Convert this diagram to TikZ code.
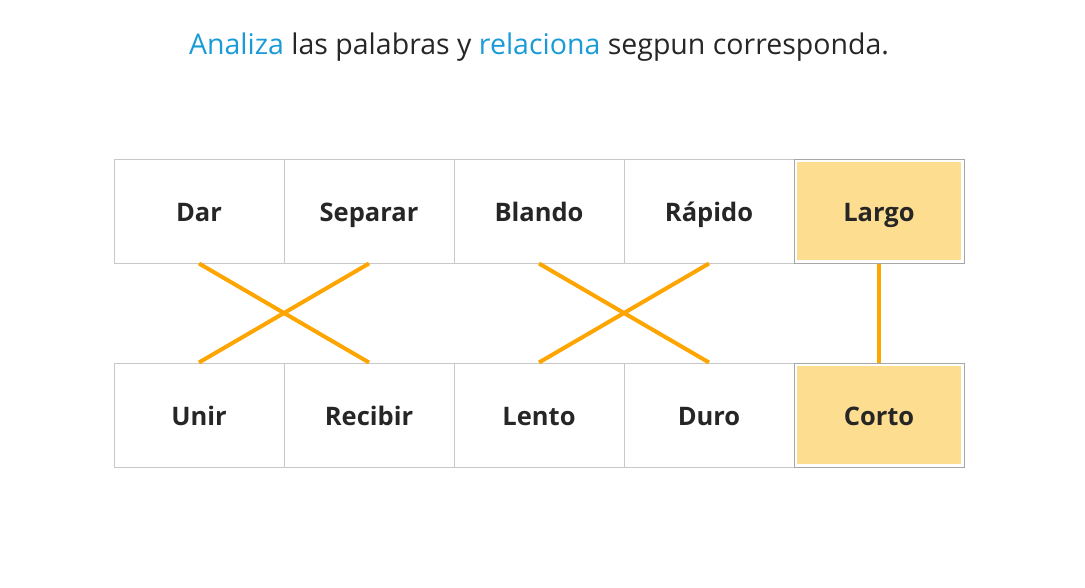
\documentclass[tikz,border=0pt]{standalone}
\usepackage{fontspec}
\setmainfont{Open Sans}
\definecolor{titleblue}{HTML}{1A9BD7}
\definecolor{txt}{HTML}{262626}
\definecolor{boxline}{HTML}{C8C8C8}
\definecolor{hl}{HTML}{FDDE90}
\definecolor{link}{HTML}{FFA500}
\begin{document}
\begin{tikzpicture}[x=1pt,y=-1pt,
  lbl/.style={font=\fontsize{25.5}{30}\selectfont\bfseries,text=txt,text height=22pt,text depth=2pt},
  cell/.style={lbl,draw=boxline,line width=1pt,minimum width=170pt,minimum height=104pt,inner sep=0pt},
  hlcell/.style={cell,draw=gray!70,fill=white,line width=1pt},
  hlfill/.style={lbl,fill=hl,draw=none,minimum width=164pt,minimum height=98pt,inner sep=0pt},
  link/.style={draw=link,line width=4pt}]
\useasboundingbox (0,0) rectangle (1085,587);
\node[text=txt,font=\fontsize{28.5}{32}\selectfont] (title) at (539,47)
  {\textcolor{titleblue}{Analiza} las palabras y \textcolor{titleblue}{relaciona} segpun corresponda.};
\node[cell] (dar) at (199,211) {Dar};
\node[cell] (sep) at (369,211) {Separar};
\node[cell] (bla) at (539,211) {Blando};
\node[cell] (rap) at (709,211) {Rápido};
\node[hlcell] (lar) at (879,211) {};
\node[hlfill] (larT) at (879,211) {Largo};
\node[cell] (uni) at (199,415) {Unir};
\node[cell] (rec) at (369,415) {Recibir};
\node[cell] (len) at (539,415) {Lento};
\node[cell] (dur) at (709,415) {Duro};
\node[hlcell] (cor) at (879,415) {};
\node[hlfill] (corT) at (879,415) {Corto};
\draw[link] (dar.south) -- (rec.north);
\draw[link] (sep.south) -- (uni.north);
\draw[link] (bla.south) -- (dur.north);
\draw[link] (rap.south) -- (len.north);
\draw[link] (lar.south) -- (cor.north);
\end{tikzpicture}
\end{document}
